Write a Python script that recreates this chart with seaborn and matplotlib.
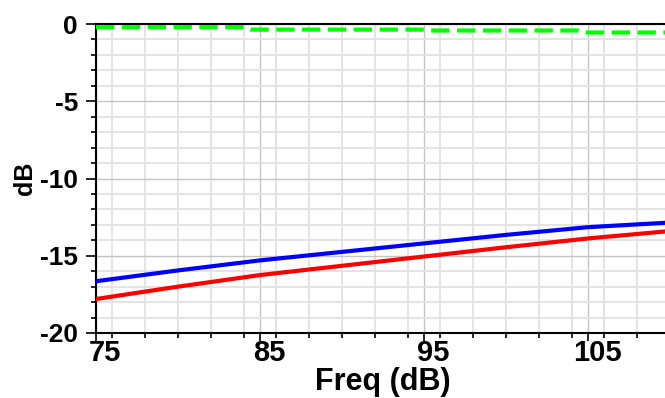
import matplotlib
matplotlib.use("Agg")
import matplotlib.pyplot as plt
import matplotlib.transforms as mtransforms
from matplotlib.ticker import MultipleLocator
import seaborn as sns
import pandas as pd

# ---- data ----
freq = [75, 80, 85, 90, 95, 100, 105, 110]
blue_db = [-16.65, -15.95, -15.3, -14.75, -14.2, -13.65, -13.15, -12.85]
red_db = [-17.8, -17.0, -16.25, -15.65, -15.05, -14.45, -13.88, -13.4]
green_freq = [75, 84.2, 84.5, 95.0, 95.3, 104.4, 104.8, 110]
green_db = [-0.2, -0.2, -0.36, -0.36, -0.42, -0.42, -0.55, -0.55]
x_ticks = [75, 85, 95, 105]
y_ticks = [0, -5, -10, -15, -20]

sns.set_style("white")
plt.rcParams['font.family'] = ['Liberation Sans', 'DejaVu Sans']
plt.rcParams['font.weight'] = 'bold'
plt.rcParams['axes.unicode_minus'] = False
for k in ['text.color', 'axes.labelcolor', 'xtick.color', 'ytick.color']:
    plt.rcParams[k] = 'black'

fig = plt.figure(figsize=(6.65, 3.98), dpi=100)
ax = fig.add_axes([96/665, 1-333/398, (670-96)/665, (333-24)/398])

df_b = pd.DataFrame({"freq": freq, "db": blue_db})
df_r = pd.DataFrame({"freq": freq, "db": red_db})
df_g = pd.DataFrame({"freq": green_freq, "db": green_db})

sns.lineplot(data=df_b, x="freq", y="db", color="#0000ff", lw=3, ax=ax, zorder=3)
sns.lineplot(data=df_r, x="freq", y="db", color="#ff0000", lw=3, ax=ax, zorder=3)
sns.lineplot(data=df_g, x="freq", y="db", color="#00ff00", lw=3, ax=ax, zorder=3,
             linestyle=(0, (4.4, 1.8)))

ax.set_xlim(75, 110)
ax.set_ylim(-20, 0)
ax.set_xticks(x_ticks)
ax.set_yticks(y_ticks)
ax.xaxis.set_minor_locator(MultipleLocator(2))
ax.yaxis.set_minor_locator(MultipleLocator(1))

ax.grid(which="major", color="#c4c4c4", lw=1.0, zorder=0)
ax.grid(which="minor", color="#e2e2e2", lw=1.3, zorder=0)
ax.set_axisbelow(True)

for s in ["left", "bottom", "top"]:
    ax.spines[s].set_color("black")
    ax.spines[s].set_linewidth(1.5)
ax.spines["right"].set_visible(False)

ax.tick_params(axis="y", which="major", direction="out", length=7, width=1.2,
               color="black", left=True, labelsize=19, pad=6)
ax.tick_params(axis="y", which="minor", direction="out", length=3.6, width=1.2,
               color="black", left=True)
ax.tick_params(axis="x", which="major", direction="out", length=6, width=1.2,
               color="black", bottom=True, labelsize=21, pad=-2)
ax.tick_params(axis="x", which="minor", direction="out", length=3.6, width=1.2,
               color="black", bottom=True)

for lbl in ax.get_yticklabels():
    lbl.set_fontweight("bold")
offset = mtransforms.ScaledTranslation(0.09, 0, fig.dpi_scale_trans)
for lbl in ax.get_xticklabels():
    lbl.set_fontweight("bold")
    lbl.set_transform(lbl.get_transform() + offset)

ax.set_xlabel("Freq (dB)", fontsize=22, fontweight="bold", labelpad=0)
ax.set_ylabel("dB", fontsize=18, fontweight="bold", labelpad=2)

fig.savefig("out.png", dpi=100)
